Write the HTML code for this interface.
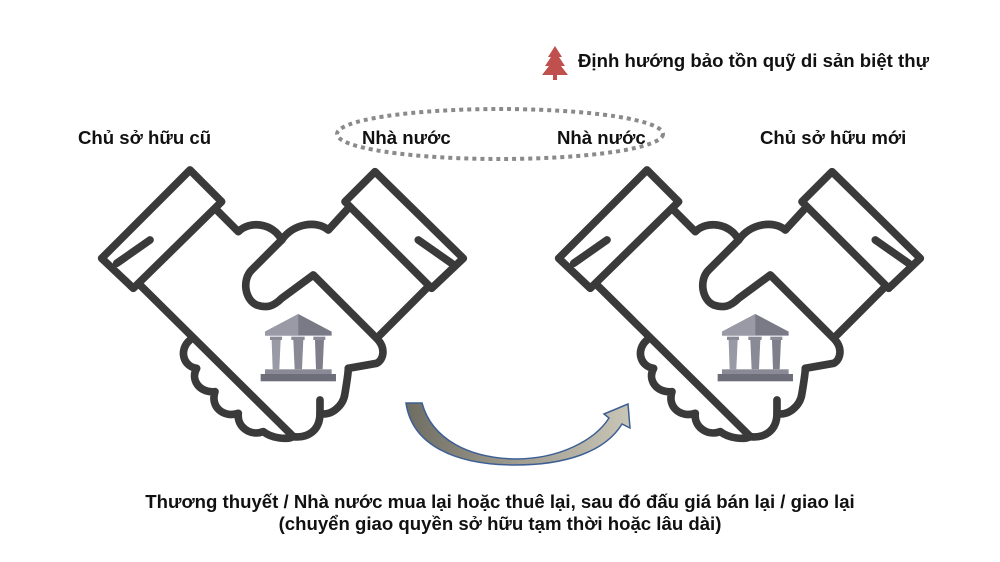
<!DOCTYPE html>
<html><head><meta charset="utf-8"><style>
body{margin:0;width:1000px;height:562px;background:#fff;overflow:hidden;position:relative;font-family:"Liberation Sans",Arial,sans-serif;font-weight:bold;color:#111}
.t{position:absolute;font-size:18.6px;white-space:nowrap}
</style></head><body>
<svg width="1000" height="562" style="position:absolute;left:0;top:0">
<defs>
<g id="hs">
 <g fill="none" stroke="#3a3a3a" stroke-width="23" stroke-linejoin="round" stroke-linecap="round">
  <path d="M300,30 L395,125 L130,385 L35,295 Z"/>
  <path d="M80,310 L180,240"/>
  <path d="M855,35 L1120,295 L1025,385 L765,125 Z"/>
  <path d="M985,240 L1085,310"/>
  <path d="M380,150 L445,215 C480,180 550,190 575,240 C610,190 680,180 715,210 L770,150"/>
  <path d="M575,240 L485,330 C455,360 465,420 500,435 C530,445 550,440 575,415 L670,345 L860,535 C890,565 880,600 860,610 L775,625"/>
  <path d="M150,375 L610,830"/>
  <path d="M1010,385 L870,525"/>
  <path d="M300,540 C265,570 280,620 320,625 C300,660 330,700 375,695 C360,740 400,775 445,760 C440,800 480,830 520,815 C545,835 590,840 610,830 C650,835 690,815 690,760 C720,770 760,740 765,700 C770,670 775,640 775,625"/>
  <path d="M690,760 L690,720"/>
 </g>
 <g>
  <polygon points="625,462 725,515 725,527 525,527 525,515" fill="#7a7a86"/>
  <polygon points="625,462 525,515 525,527 625,527" fill="#9a9aa6"/>
  <rect x="540" y="530" width="36" height="10" fill="#8a8a96"/>
  <rect x="604" y="530" width="40" height="10" fill="#8a8a96"/>
  <rect x="670" y="530" width="36" height="10" fill="#8a8a96"/>
  <polygon points="545,540 572,540 568,628 548,628" fill="#9a9aa6"/>
  <polygon points="610,540 640,540 636,628 614,628" fill="#8a8a96"/>
  <polygon points="675,540 702,540 698,628 678,628" fill="#7f7f8b"/>
  <rect x="525" y="628" width="200" height="14" fill="#8a8a96"/>
  <rect x="512" y="642" width="226" height="22" fill="#6e6e7a"/>
 </g>
</g>
<linearGradient id="ag" x1="0" y1="0" x2="1" y2="0"><stop offset="0" stop-color="#6f6d62"/><stop offset="0.5" stop-color="#a09d90"/><stop offset="1" stop-color="#c9c6b8"/></linearGradient>
</defs>
<use href="#hs" transform="translate(90,160) scale(0.3333)"/>
<use href="#hs" transform="translate(547,160) scale(0.3333)"/>
<ellipse cx="500" cy="134" rx="163" ry="25" fill="none" stroke="#8a8a8a" stroke-width="4" stroke-dasharray="4 4"/>
<path d="M406,403 L422,403 C432,440 470,458 515,459 C560,459 595,440 609,418 L604,414 L628,404 L630,428 L622,424 C605,452 565,465 515,465 C455,465 412,445 406,403 Z" fill="url(#ag)" stroke="#3d5f94" stroke-width="1.5"/>
<g fill="#c0504d">
 <polygon points="555,46 562,57 559,57 565,66 561,66 568,75 542,75 549,66 545,66 551,57 548,57"/>
 <rect x="553" y="74" width="4" height="6"/>
</g>
</svg>
<div class="t" style="left:578px;top:50px">Định hướng bảo tồn quỹ di sản biệt thự</div>
<div class="t" style="left:78px;top:127px">Chủ sở hữu cũ</div>
<div class="t" style="left:362px;top:127px">Nhà nước</div>
<div class="t" style="left:557px;top:127px">Nhà nước</div>
<div class="t" style="left:760px;top:127px">Chủ sở hữu mới</div>
<div class="t" style="left:0;width:1000px;text-align:center;top:491px">Thương thuyết / Nhà nước mua lại hoặc thuê lại, sau đó đấu giá bán lại / giao lại</div>
<div class="t" style="left:0;width:1000px;text-align:center;top:513px">(chuyển giao quyền sở hữu tạm thời hoặc lâu dài)</div>
</body></html>
